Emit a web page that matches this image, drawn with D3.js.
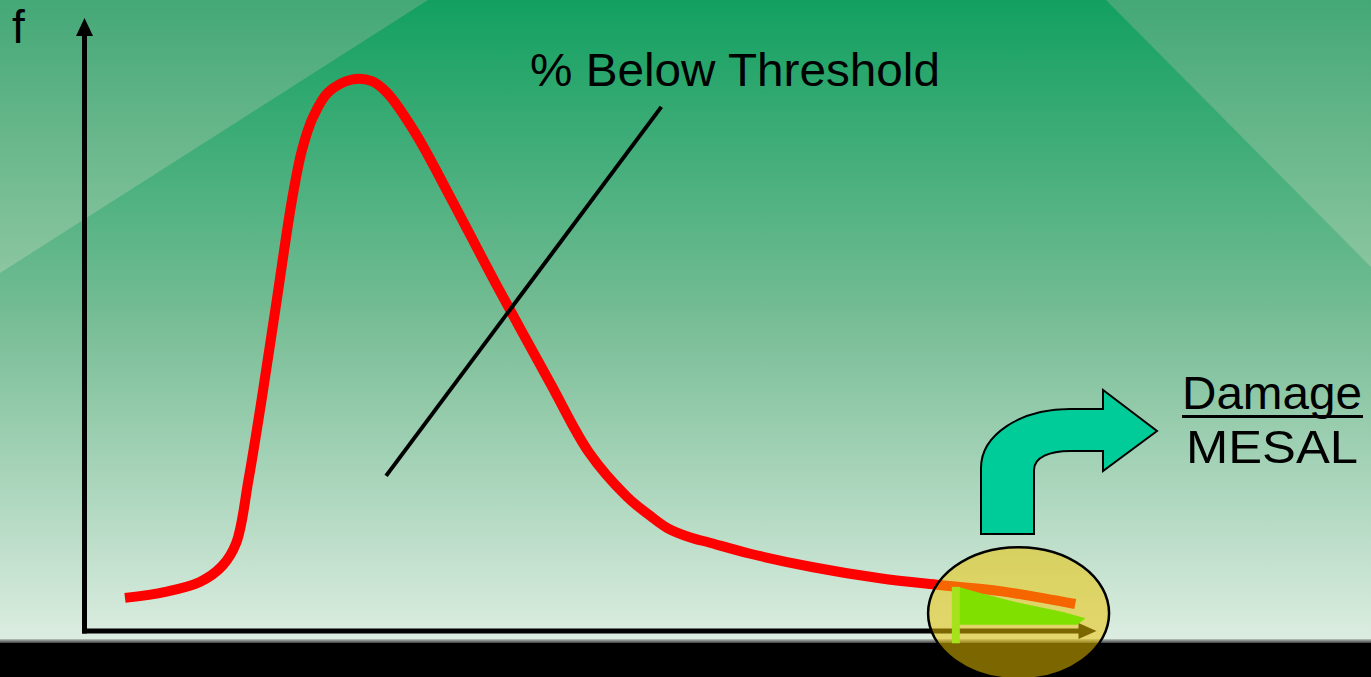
<!DOCTYPE html>
<html>
<head>
<meta charset="utf-8">
<script src="https://cdn.jsdelivr.net/npm/d3@7/dist/d3.min.js"></script>
<style>
  html, body { margin: 0; padding: 0; background: #000; }
  svg { display: block; }
  text { font-family: "Liberation Sans", Arial, sans-serif; fill: #000; }
</style>
</head>
<body>
<svg id="chart" width="1371" height="677"></svg>
<script>
// Load spectrum: relative frequency (f) against load level, 0-100 on both axes
const loadLevels = [4.0, 8.0, 11.4, 13.6, 15.0, 16.2, 17.5, 19.0, 20.5, 21.5, 22.6, 24.1, 26.5,
  28.4, 29.9, 32.7, 36.3, 40.6, 46.0, 49.9, 53.6, 55.9, 57.6, 59.8, 61.8, 65.8, 72.0, 78.6,
  84.5, 90.5, 97.9];
const frequency = [5.4, 6.4, 8.0, 10.6, 14.4, 24.6, 37.7, 54.0, 70.3, 78.5, 83.9, 87.9, 90.0,
  89.7, 87.8, 81.2, 70.3, 56.8, 40.5, 29.0, 21.9, 18.8, 16.8, 15.3, 14.4, 12.6, 10.4, 8.6,
  7.5, 6.5, 4.4];

// Loads above the threshold that cause damage (the shaded tail)
const thresholdLoad = 86.1;
const tailLoads = [86.3, 88.5, 92.1, 96.7, 98.9];
const tailFreq = [7.2, 6.2, 4.7, 3.1, 2.1];
const tailBase = 1.0;
const tailBaseEnd = 98.1;

// Pointer from the label down onto the curve
const pointerLoad = [29.8, 57.0];
const pointerFreq = [25.3, 85.5];

const yLabel = "f";
const pointerLabel = "% Below Threshold";
const outLabelTop = "Damage";
const outLabelBottom = "MESAL";

const W = 1371, H = 677;
const svg = d3.select("#chart");

const x = d3.scaleLinear().domain([0, 100]).range([84.5, 1096.5]);
const y = d3.scaleLinear().domain([0, 100]).range([631, 18]);

// ---- background ----
const defs = svg.append("defs");
const bg = defs.append("linearGradient").attr("id", "bg")
  .attr("gradientUnits", "userSpaceOnUse").attr("x1", 0).attr("y1", 0).attr("x2", 0).attr("y2", 640);
bg.append("stop").attr("offset", 0).attr("stop-color", "#12a060");
bg.append("stop").attr("offset", 0.5).attr("stop-color", "#77bd95");
bg.append("stop").attr("offset", 1).attr("stop-color", "#dcede1");

const corner = defs.append("linearGradient").attr("id", "corner")
  .attr("gradientUnits", "userSpaceOnUse").attr("x1", 0).attr("y1", 0).attr("x2", 0).attr("y2", 275);
corner.append("stop").attr("offset", 0).attr("stop-color", "#44a876");
corner.append("stop").attr("offset", 1).attr("stop-color", "#8cc6a0");

const band = defs.append("linearGradient").attr("id", "band")
  .attr("x1", 0).attr("y1", 0).attr("x2", 0).attr("y2", 1);
band.append("stop").attr("offset", 0).attr("stop-color", "#b8c4bc");
band.append("stop").attr("offset", 1).attr("stop-color", "#404040");

svg.append("rect").attr("width", W).attr("height", 642).attr("fill", "url(#bg)");
svg.append("path").attr("d", "M0,0 L428,0 L0,273 Z").attr("fill", "url(#corner)");
svg.append("path").attr("d", "M1106,0 L1371,0 L1371,267 Z").attr("fill", "url(#corner)");
svg.append("rect").attr("y", 639).attr("width", W).attr("height", 4).attr("fill", "url(#band)");
svg.append("rect").attr("y", 643).attr("width", W).attr("height", H - 643).attr("fill", "#000");

// ---- axes ----
const axes = svg.append("g");
axes.append("path")
  .attr("d", `M${x(0)},${y(0) + 2.5} L${x(0)},${y(100) + 16}`)
  .attr("stroke", "#000").attr("stroke-width", 5).attr("fill", "none");
axes.append("path")
  .attr("d", `M${x(0)},${y(100)} L${x(0) - 8.5},${y(100) + 18} L${x(0) + 8.5},${y(100) + 18} Z`)
  .attr("fill", "#000");
axes.append("path")
  .attr("d", `M${x(0) - 2.5},${y(0)} L${x(100) - 16},${y(0)}`)
  .attr("stroke", "#000").attr("stroke-width", 5).attr("fill", "none");
axes.append("path")
  .attr("d", `M${x(100)},${y(0)} L${x(100) - 18},${y(0) - 8} L${x(100) - 18},${y(0) + 8} Z`)
  .attr("fill", "#000");

// ---- distribution curve ----
const pts = loadLevels.map((l, i) => [l, frequency[i]]);
const line = d3.line().x(d => x(d[0])).y(d => y(d[1])).curve(d3.curveCatmullRom.alpha(0.5));
svg.append("path").datum(pts)
  .attr("d", line)
  .attr("fill", "none").attr("stroke", "#ff0000").attr("stroke-width", 10)
  .attr("stroke-linejoin", "round");

// ---- pointer ----
svg.append("line")
  .attr("x1", x(pointerLoad[0])).attr("y1", y(pointerFreq[0]))
  .attr("x2", x(pointerLoad[1])).attr("y2", y(pointerFreq[1]))
  .attr("stroke", "#000").attr("stroke-width", 4);

// ---- highlight around the damaging tail ----
svg.append("ellipse")
  .attr("cx", x(92.3)).attr("cy", y(2.9)).attr("rx", 90.5).attr("ry", 66)
  .attr("fill", "rgb(236,196,0)").attr("fill-opacity", 0.52)
  .attr("stroke", "#000").attr("stroke-width", 2.5);

const tailPts = tailLoads.map((l, i) => [x(l), y(tailFreq[i])])
  .concat([[x(tailBaseEnd), y(tailBase)], [x(tailLoads[0]), y(tailBase)]]);
svg.append("path")
  .attr("d", "M" + tailPts.map(p => p.join(",")).join("L") + "Z")
  .attr("fill", "#80e000");
svg.append("rect")
  .attr("x", x(thresholdLoad) - 4).attr("y", y(tailFreq[0]))
  .attr("width", 8).attr("height", y(-2) - y(tailFreq[0]))
  .attr("fill", "#a6e21c");

// ---- bent arrow towards the output ----
svg.append("path")
  .attr("d", "M981,534 L981,468 C981,435 1020,409 1070,409 L1103,409 L1103,390 L1157,431 " +
             "L1103,471 L1103,451 L1070,451 C1050,451 1034,457 1034,470 L1034,534 Z")
  .attr("fill", "#00cc99").attr("stroke", "#000").attr("stroke-width", 2)
  .attr("stroke-linejoin", "miter");

// ---- labels ----
svg.append("text").attr("x", 12).attr("y", 43).attr("font-size", 46).text(yLabel);
svg.append("text").attr("x", 530).attr("y", 86).attr("font-size", 47)
  .attr("textLength", 410).attr("lengthAdjust", "spacingAndGlyphs").text(pointerLabel);

svg.append("text").attr("x", 1182).attr("y", 409).attr("font-size", 46)
  .attr("textLength", 180).attr("lengthAdjust", "spacingAndGlyphs").text(outLabelTop);
svg.append("line").attr("x1", 1182).attr("x2", 1363).attr("y1", 416.5).attr("y2", 416.5)
  .attr("stroke", "#000").attr("stroke-width", 3);
svg.append("text").attr("x", 1186).attr("y", 463).attr("font-size", 46)
  .attr("textLength", 172).attr("lengthAdjust", "spacingAndGlyphs").text(outLabelBottom);
</script>
</body>
</html>
